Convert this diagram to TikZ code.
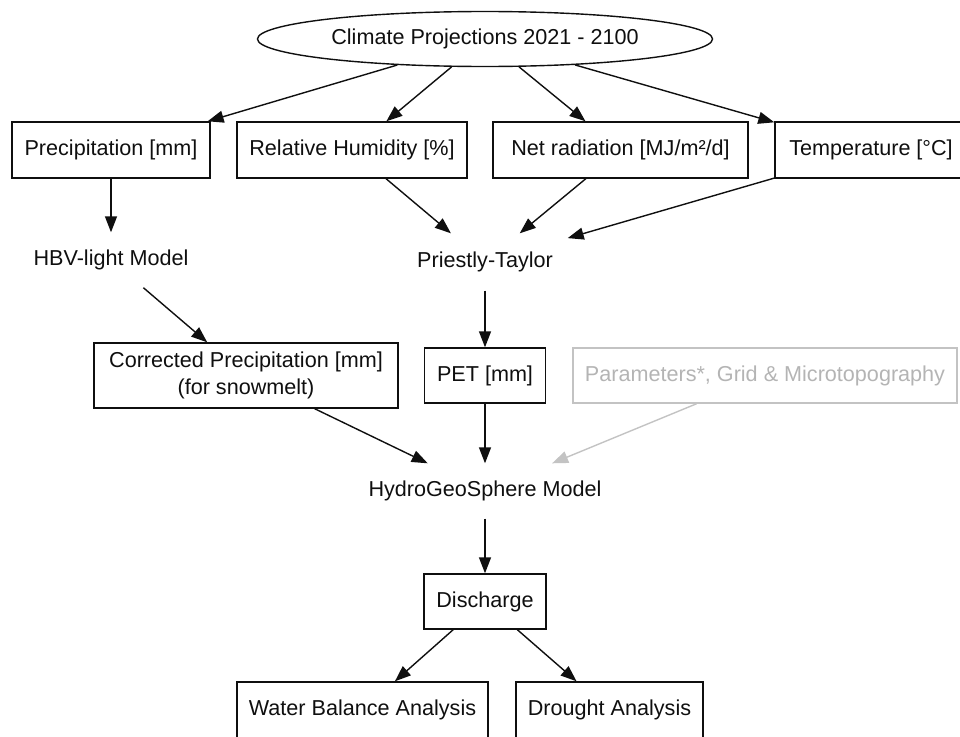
\documentclass[tikz,border=0pt]{standalone}
\usepackage{fontspec}
\setmainfont{Liberation Sans}
\usetikzlibrary{shapes.geometric,arrows.meta}
\definecolor{lightline}{RGB}{195,195,195}
\definecolor{lighttext}{RGB}{180,180,180}
\definecolor{ink}{RGB}{15,15,15}
\begin{document}
\begin{tikzpicture}[x=1pt,y=-1pt,
  font=\fontsize{21.6}{27}\selectfont,
  line width=1.4pt, draw=ink, text=ink,
  arr/.style={draw=ink,-{Triangle[length=16pt,width=12pt]}},
  grayarr/.style={draw=lightline,-{Triangle[length=16pt,width=12pt]}},
  box/.style={draw=ink, rectangle, inner sep=0pt, align=center},
  graybox/.style={draw=lightline, text=lighttext, rectangle, inner sep=0pt, align=center},
  plain/.style={inner sep=0pt, align=center}]
\useasboundingbox (0,0) rectangle (960,736);
\clip (0,0) rectangle (960,736);
\node[ellipse,draw=ink,minimum width=455pt,minimum height=55pt,inner sep=0pt] (cp) at (485,39) {Climate Projections 2021 - 2100};
\node[box,minimum width=198pt,minimum height=56pt] (pr) at (111,150) {Precipitation [mm]};
\node[box,minimum width=230pt,minimum height=56pt] (rh) at (352,150) {Relative Humidity [\%]};
\node[box,minimum width=255pt,minimum height=56pt] (nr) at (620.5,150) {Net radiation [MJ/m²/d]};
\node[box,minimum width=192pt,minimum height=56pt] (te) at (871,150) {Temperature [°C]};
\node[plain,minimum width=160pt,minimum height=54pt] (hbv) at (111,260) {HBV-light Model};
\node[plain,minimum width=164pt,minimum height=56pt] (pt) at (485,262) {Priestly-Taylor};
\node[box,minimum width=304pt,minimum height=65pt] (cpr) at (246,375.5) {Corrected Precipitation [mm]\\(for snowmelt)};
\node[box,minimum width=121pt,minimum height=55pt] (pet) at (485,375.5) {PET [mm]};
\node[graybox,minimum width=384pt,minimum height=55pt] (par) at (765,375.5) {Parameters*, Grid \& Microtopography};
\node[plain,minimum width=240pt,minimum height=54pt] (hgs) at (485,491) {HydroGeoSphere Model};
\node[box,minimum width=122pt,minimum height=55pt] (dis) at (485,601.5) {Discharge};
\node[box,minimum width=251pt,minimum height=56pt] (wba) at (362.5,710) {Water Balance Analysis};
\node[box,minimum width=187pt,minimum height=56pt] (da) at (609.5,710) {Drought Analysis};

\draw[arr] (cp) -- (pr);
\draw[arr] (cp) -- (rh);
\draw[arr] (cp) -- (nr);
\draw[arr] (cp) -- (te);
\draw[arr] (pr) -- (hbv);
\draw[arr] (rh) -- (pt);
\draw[arr] (nr) -- (pt);
\draw[arr] (te) -- (pt);
\draw[arr] (hbv) -- (cpr);
\draw[arr] (pt) -- (pet);
\draw[arr] (cpr) -- (hgs);
\draw[arr] (pet) -- (hgs);
\draw[grayarr] (par) -- (hgs);
\draw[arr] (hgs) -- (dis);
\draw[arr] (dis) -- (wba);
\draw[arr] (dis) -- (da);
\end{tikzpicture}
\end{document}
